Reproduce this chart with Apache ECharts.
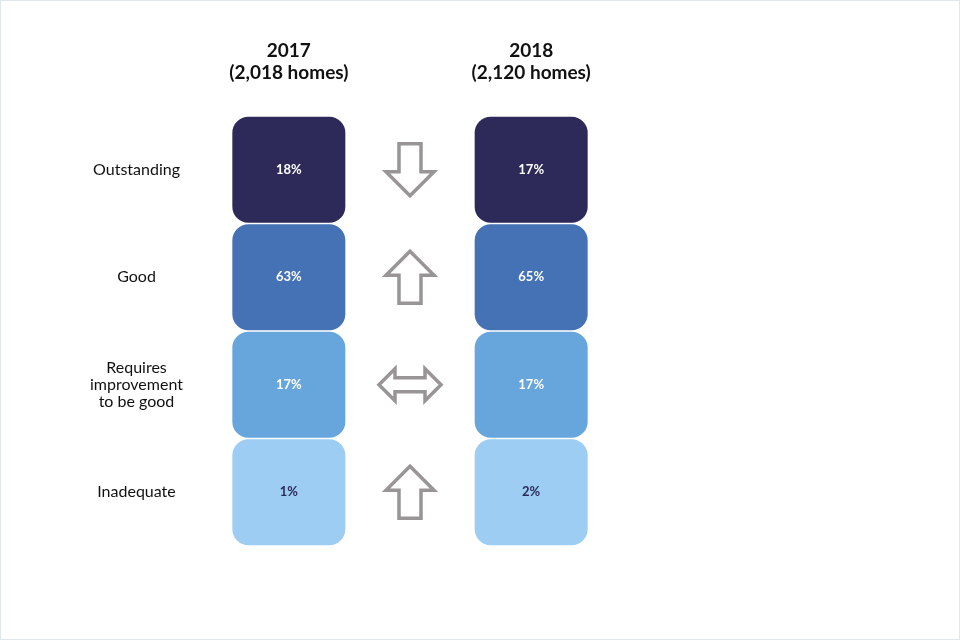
<!DOCTYPE html>
<html><head><meta charset="utf-8">
<script src="https://cdn.jsdelivr.net/npm/echarts@6/dist/echarts.min.js"></script>
<style>html,body{margin:0;background:#fff}#main{width:958px;height:638px;border:1px solid #dfe6ee}</style>
</head><body><div id="main"></div>
<script>
// 数据
var ratings = ["Outstanding", "Good", "Requires\nimprovement\nto be good", "Inadequate"];
var years = ["2017\n(2,018 homes)", "2018\n(2,120 homes)"];
var values2017 = [18, 63, 17, 1];
var values2018 = [17, 65, 17, 2];
var changes = ["down", "up", "same", "up"];
var colors = ["#2d2a5a", "#4472b5", "#67a6dc", "#9dcdf2"];

var cells = [];
values2017.forEach(function (v, i) { cells.push([1, i, v]); });
values2018.forEach(function (v, i) { cells.push([2, i, v]); });
var arrows = changes.map(function (c, i) { return [1.5, i, c]; });

// 箭头形状（相对中心的偏移）
var shapes = {
  up: [[0,-26],[24,-2],[11,-2],[11,26],[-11,26],[-11,-2],[-24,-2]],
  down: [[0,26],[24,2],[11,2],[11,-26],[-11,-26],[-11,2],[-24,2]],
  same: [[-31,0],[-15,-16],[-15,-7],[15,-7],[15,-16],[31,0],[15,16],[15,7],[-15,7],[-15,16]]
};

var myChart = echarts.init(document.getElementById("main"));
var option = {
  animation: false,
  grid: { left: 45.5, right: 185.5, top: 115, bottom: 93 },
  xAxis: {
    type: "value", min: 0, max: 3, interval: 1, position: "top",
    splitLine: { show: false }, axisLine: { show: false }, axisTick: { show: false },
    axisLabel: {
      margin: 32, color: "#111", fontSize: 19, fontWeight: "bold", lineHeight: 22,
      fontFamily: "Lato", showMinLabel: true, showMaxLabel: true,
      formatter: function (v) { return v === 1 ? years[0] : v === 2 ? years[1] : ""; }
    }
  },
  yAxis: {
    type: "category", inverse: true, data: ratings, offset: -90,
    axisLine: { show: false }, axisTick: { show: false },
    axisLabel: { align: "center", margin: 0, fontSize: 16, lineHeight: 17, color: "#111", fontFamily: "Lato" }
  },
  series: [
    {
      type: "custom",
      data: cells,
      renderItem: function (params, api) {
        var c = api.coord([api.value(0), api.value(1)]);
        var i = api.value(1);
        var w = 113, h = 106;
        return {
          type: "rect",
          shape: { x: c[0] - w / 2, y: c[1] - h / 2, width: w, height: h, r: 16 },
          style: {
            fill: colors[i],
            text: api.value(2) + "%",
            textFill: i === 3 ? "#2d2a5a" : "#fff",
            fontSize: 13, fontWeight: "bold", fontFamily: "Lato"
          }
        };
      }
    },
    {
      type: "custom",
      data: arrows,
      renderItem: function (params, api) {
        var c = api.coord([api.value(0), api.value(1)]);
        var pts = shapes[arrows[params.dataIndex][2]].map(function (p) { return [c[0] + p[0], c[1] + p[1]]; });
        return {
          type: "polygon",
          shape: { points: pts },
          style: { fill: "#fff", stroke: "#999496", lineWidth: 3.5, lineJoin: "miter" }
        };
      }
    }
  ]
};
myChart.setOption(option);
</script></body></html>
